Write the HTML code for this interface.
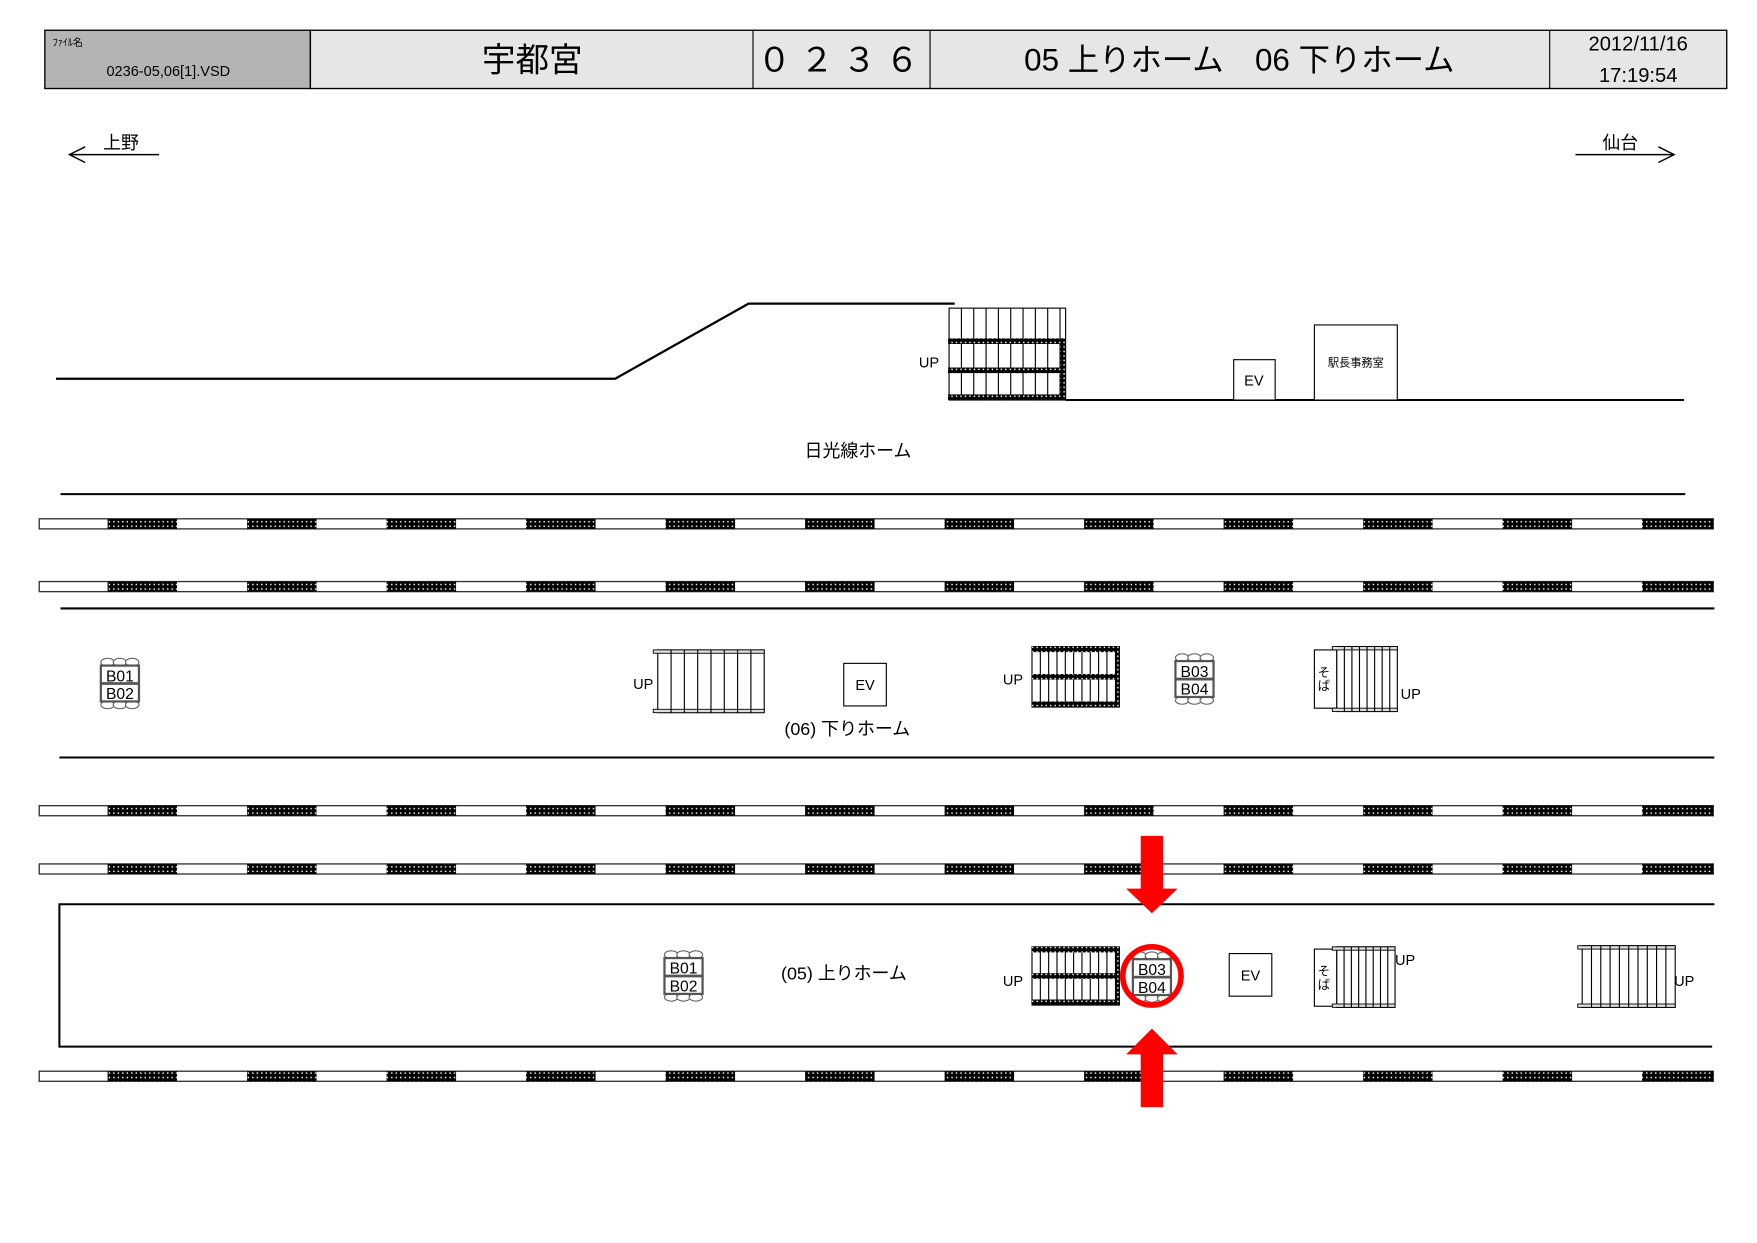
<!DOCTYPE html>
<html><head><meta charset="utf-8"><style>
html,body{margin:0;padding:0;background:#fff;width:1757px;height:1243px;overflow:hidden}
text{font-family:"Liberation Sans","Noto Sans CJK JP",sans-serif;fill:#000}
</style></head><body>
<svg id="s" xmlns="http://www.w3.org/2000/svg" width="1757" height="1243" viewBox="0 0 1568 1109.3">
<defs>
<pattern id="dot" width="4" height="4" patternUnits="userSpaceOnUse"><rect width="4" height="4" fill="#000"/><rect x="1" y="1" width="1.3" height="1.3" fill="#fff"/></pattern>
</defs>
<rect x="40" y="27" width="237" height="52" fill="#b4b4b4" stroke="#000" stroke-width="1.2"/>
<rect x="277" y="27" width="1264" height="52" fill="#e6e6e6" stroke="#000" stroke-width="1.2"/>
<line x1="672" y1="27" x2="672" y2="79" stroke="#000"/>
<line x1="830" y1="27" x2="830" y2="79" stroke="#000"/>
<line x1="1383" y1="27" x2="1383" y2="79" stroke="#000"/>
<text x="47" y="41" font-size="9">ﾌｧｲﾙ名</text>
<text x="95" y="68" font-size="13">0236-05,06[1].VSD</text>
<text x="475" y="64" font-size="30" text-anchor="middle">宇都宮</text>
<text x="752" y="64" font-size="30" text-anchor="middle" letter-spacing="8">０２３６</text>
<text x="1106" y="63" font-size="28" text-anchor="middle">05 上りホーム　06 下りホーム</text>
<text x="1462" y="45" font-size="18" text-anchor="middle">2012/11/16</text>
<text x="1462" y="73" font-size="18" text-anchor="middle">17:19:54</text>
<line x1="62" y1="138" x2="142" y2="138" stroke="#000" stroke-width="1.3"/>
<polyline points="76,131 62,138 76,145" fill="none" stroke="#000" stroke-width="1.3"/>
<text x="92" y="133" font-size="16">上野</text>
<line x1="1406" y1="138" x2="1494" y2="138" stroke="#000" stroke-width="1.3"/>
<polyline points="1480,131 1494,138 1480,145" fill="none" stroke="#000" stroke-width="1.3"/>
<text x="1430" y="133" font-size="16">仙台</text>
<polyline points="50,338 549,338 668,271 852,271" fill="none" stroke="#000" stroke-width="2"/>
<line x1="951" y1="357" x2="1503" y2="357" stroke="#000" stroke-width="1.8"/>
<g id="upst"></g>
<text x="820" y="328" font-size="13">UP</text>
<rect x="1101" y="321" width="37" height="36" fill="#fff" stroke="#000"/>
<text x="1119" y="344" font-size="13" text-anchor="middle">EV</text>
<rect x="1173" y="290" width="74" height="67" fill="#fff" stroke="#000"/>
<text x="1210" y="327" font-size="10" text-anchor="middle">駅長事務室</text>
<text x="718" y="408" font-size="16">日光線ホーム</text>
<line x1="54" y1="441" x2="1504" y2="441" stroke="#000" stroke-width="1.8"/>
<g id="rails"></g>
<line x1="54" y1="543" x2="1530" y2="543" stroke="#000" stroke-width="1.8"/>
<line x1="53" y1="676" x2="1530" y2="676" stroke="#000" stroke-width="1.8"/>
<text x="565" y="615" font-size="13">UP</text>
<rect x="753" y="592" width="38" height="38" fill="#fff" stroke="#000"/>
<text x="772" y="616" font-size="13" text-anchor="middle">EV</text>
<text x="700" y="656" font-size="16">(06) 下りホーム</text>
<text x="895" y="611" font-size="13">UP</text>
<text x="1250" y="624" font-size="13">UP</text>
<polyline points="1530,807 53,807 53,934 1528,934" fill="none" stroke="#000" stroke-width="1.8"/>
<text x="697" y="874" font-size="16">(05) 上りホーム</text>
<text x="895" y="880" font-size="13">UP</text>
<rect x="1097" y="851" width="38" height="38" fill="#fff" stroke="#000"/>
<text x="1116" y="875" font-size="13" text-anchor="middle">EV</text>
<text x="1245" y="861" font-size="13">UP</text>
<text x="1494" y="880" font-size="13">UP</text>
<g id="items"></g>
<circle cx="1028" cy="871" r="26" fill="none" stroke="#f00" stroke-width="5"/>
<polygon points="1018,746 1038,746 1038,793 1051,793 1028,815 1005,793 1018,793" fill="#f00"/>
<polygon points="1028,918 1051,941 1038,941 1038,988 1018,988 1018,941 1005,941" fill="#f00"/>
</svg>
<script>
const NS="http://www.w3.org/2000/svg";
function el(p,t,a){const e=document.createElementNS(NS,t);for(const k in a)e.setAttribute(k,a[k]);p.appendChild(e);return e;}
const rails=document.getElementById('rails');
[463,519,719,771,956].forEach(y=>{
 el(rails,'rect',{x:35,y:y,width:1494,height:9,fill:'#fff',stroke:'#333','stroke-width':1.2});
 for(let i=0;i<12;i++){const x=96+i*124.5;const w=i==11?1529-x:62;el(rails,'rect',{x:x,y:y,width:w,height:9,fill:'url(#dot)'});}
});
const up=document.getElementById('upst');
el(up,'rect',{x:847,y:275,width:104,height:82,fill:'#fff',stroke:'#000'});
for(let i=0;i<9;i++){const x=858+i*11;el(up,'line',{x1:x,y1:275,x2:x,y2:357,stroke:'#000'});}
[302,328,352].forEach(y=>el(up,'rect',{x:846,y:y,width:105,height:5,fill:'url(#dot)'}));
el(up,'rect',{x:946,y:302,width:5,height:55,fill:'url(#dot)'});
const it=document.getElementById('items');
function plainStair(x,y,w,h,n){
 el(it,'rect',{x:x,y:y,width:w,height:h,fill:'#fff',stroke:'#000'});
 el(it,'rect',{x:x-4,y:y,width:w+4,height:3,fill:'#ddd',stroke:'#000','stroke-width':0.8});
 el(it,'rect',{x:x-4,y:y+h-3,width:w+4,height:3,fill:'#ddd',stroke:'#000','stroke-width':0.8});
 for(let i=1;i<n;i++){const xx=x+i*w/n;el(it,'line',{x1:xx,y1:y,x2:xx,y2:y+h,stroke:'#000'});}
}
function esc(x,y,w,h){
 el(it,'rect',{x:x,y:y,width:w,height:h,fill:'#fff',stroke:'#000'});
 for(let i=1;i<10;i++){const xx=x+i*w/10.5;el(it,'line',{x1:xx,y1:y,x2:xx,y2:y+h,stroke:'#000'});}
 [y,y+h/2-2.5,y+h-5].forEach(yy=>el(it,'rect',{x:x,y:yy,width:w,height:5,fill:'url(#dot)'}));
 el(it,'rect',{x:x+w-4,y:y,width:4,height:h,fill:'url(#dot)'});
}
function bench(x,y,a,b){
 const w=34;
 for(let i=0;i<3;i++){el(it,'ellipse',{cx:x+6+i*11,cy:y+3,rx:6,ry:3.5,fill:'#fff',stroke:'#666'});el(it,'ellipse',{cx:x+6+i*11,cy:y+41,rx:6,ry:3.5,fill:'#fff',stroke:'#666'});}
 el(it,'rect',{x:x,y:y+6,width:w,height:32,fill:'#fff',stroke:'#555','stroke-width':2});
 el(it,'line',{x1:x,y1:y+22,x2:x+w,y2:y+22,stroke:'#555','stroke-width':2.5});
 const t1=el(it,'text',{x:x+17,y:y+20,'font-size':14,'text-anchor':'middle'});t1.textContent=a;
 const t2=el(it,'text',{x:x+17,y:y+36,'font-size':14,'text-anchor':'middle'});t2.textContent=b;
}
function soba(x,y,w,h){
 el(it,'rect',{x:x,y:y,width:w,height:h,fill:'#fff',stroke:'#000'});
 const t=el(it,'text',{x:x+3,y:y+h/2-2,'font-size':11});t.textContent='そ';
 const t2=el(it,'text',{x:x+3,y:y+h/2+10,'font-size':11});t2.textContent='ば';
}
plainStair(587,580,95,56,8);
bench(90,588,'B01','B02');
esc(921,577,78,54);
bench(1049,584,'B03','B04');
soba(1173,580,20,52);
plainStair(1193,577,54,58,8);
bench(593,849,'B01','B02');
esc(921,845,78,52);
bench(1011,850,'B03','B04');
soba(1173,847,20,51);
plainStair(1193,845,52,54,8);
plainStair(1412,844,83,55,10);
</script>
</body></html>
